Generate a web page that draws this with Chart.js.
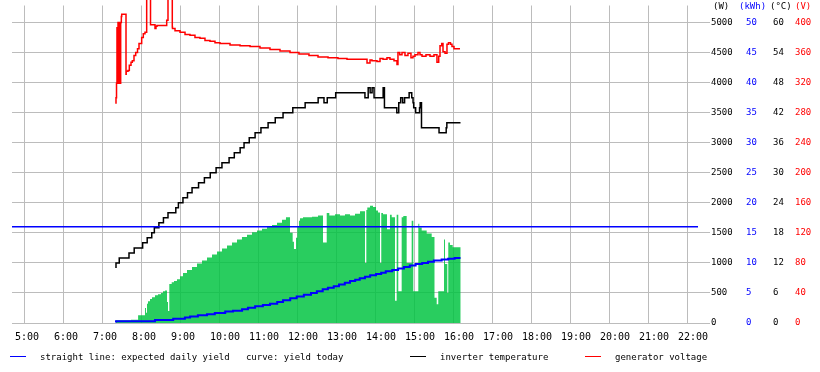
<!DOCTYPE html>
<html><head><meta charset="utf-8">
<script src="https://cdn.jsdelivr.net/npm/chart.js@4/dist/chart.umd.min.js"></script>
<style>
html,body{margin:0;padding:0;background:#fff;}
#wrap{position:relative;width:820px;height:372px;font-family:"DejaVu Sans Mono",monospace;}
canvas{position:absolute;left:0;top:0;}
.t{position:absolute;font-size:9px;line-height:12px;white-space:pre;color:#000;}
.ln{position:absolute;height:1px;width:16px;}
</style></head>
<body><div id="wrap"><canvas id="c" width="820" height="372"></canvas>
<span class="t" style="left:713px;top:0px;">(W)</span>
<span class="t" style="left:739px;top:0px;color:#0000ff;">(kWh)</span>
<span class="t" style="left:770px;top:0px;">(°C)</span>
<span class="t" style="left:795px;top:0px;color:#ff0000;">(V)</span>
<div class="ln" style="left:10px;top:356px;background:#0000ff;"></div>
<span class="t" style="left:40px;top:351px;">straight line: expected daily yield   curve: yield today</span>
<div class="ln" style="left:410px;top:356px;background:#000;"></div>
<span class="t" style="left:440px;top:351px;">inverter temperature</span>
<div class="ln" style="left:585px;top:356px;background:#ff0000;"></div>
<span class="t" style="left:615px;top:351px;">generator voltage</span>
</div>
<script>
// ---- axis ticks ----
const hourTicks = [5,6,7,8,9,10,11,12,13,14,15,16,17,18,19,20,21,22];
const wTicks = [0,500,1000,1500,2000,2500,3000,3500,4000,4500,5000];
const kwhTicks = [0,5,10,15,20,25,30,35,40,45,50];
const tempTicks = [0,6,12,18,24,30,36,42,48,54,60];
const voltTicks = [0,40,80,120,160,200,240,280,320,360,400];

// ---- expected daily yield (kWh) ----
const expectedYield = 16;

// ---- power (W) ----
const powerTimes = ['7:20','7:43','7:54','8:04.6','8:06.2','8:07.7','8:09.2','8:12.3','8:15.4','8:20','8:24.6','8:29.2','8:32.3','8:35.4','8:38.5','8:40','8:42','8:45.7','8:49.2','8:53.8','8:58.5','9:03.1','9:09.2','9:16.9','9:24.6','9:32.3','9:40','9:47.7','9:55.4','10:03.1','10:10.8','10:18.5','10:26.2','10:33.8','10:41.5','10:49.2','10:56.9','11:04.6','11:12.3','11:20','11:27.7','11:35.4','11:41.5','11:47.7','11:51.8','11:53.8','11:56.9','11:58.9','12:01.5','12:03.1','12:07.7','12:21.5','12:30.8','12:38.5','12:44.2','12:48.2','12:56.9','13:04.6','13:12.3','13:20','13:27.7','13:35.4','13:43.1','13:45.1','13:46.6','13:50.8','13:55.4','14:00','14:03.1','14:06.2','14:08.1','14:10.8','14:16.9','14:21.5','14:24.2','14:29.2','14:31.8','14:34.3','14:39.5','14:42','14:47.2','14:54.9','14:57.4','15:05.1','15:06.6','15:10.3','15:18','15:25.7','15:30','15:33.4','15:35.8','15:44.6','15:46.2','15:49.7','15:51.2','15:53.8','15:58','16:00.5','16:10.3'];
const powerW = [20,45,55,130,250,170,320,360,400,430,460,480,500,530,540,350,200,650,680,700,730,780,830,880,930,990,1040,1090,1140,1190,1240,1290,1340,1390,1430,1470,1510,1540,1570,1600,1630,1670,1720,1760,1500,1350,1230,1420,1600,1700,1745,1760,1770,1790,1340,1830,1790,1810,1790,1810,1790,1820,1860,1000,1880,1920,1950,1930,1870,1840,1000,1830,1810,1560,1800,1760,370,1800,530,1760,1780,1000,1700,530,1650,1590,1540,1490,1430,420,310,530,1390,980,500,1340,1300,1260,1260];

// ---- yield today (kWh) ----
const yieldTimes = ['7:20','8:20','8:48','9:06','9:14','9:26','9:40','9:52','10:08','10:20','10:34','10:43','10:54','11:06','11:17','11:28','11:37','11:48','11:58','12:09','12:20','12:29','12:38','12:46','12:55','13:03','13:12','13:20','13:28','13:35','13:43','13:51','14:00','14:08','14:15','14:25','14:34','14:43','14:52','15:01','15:11','15:20','15:29','15:41','15:51','16:01','16:10'];
const yieldKwh = [0.1,0.3,0.5,0.7,0.9,1.1,1.3,1.45,1.65,1.9,2.05,2.3,2.55,2.8,3.0,3.2,3.5,3.8,4.1,4.4,4.7,5.0,5.3,5.6,5.85,6.1,6.4,6.7,7.0,7.2,7.45,7.7,7.95,8.15,8.35,8.6,8.8,9.05,9.3,9.55,9.8,10.0,10.2,10.4,10.55,10.7,10.8];

// ---- inverter temperature (°C) ----
const tempTimes = ['7:20','7:25','7:40','7:48','8:01','8:08','8:15','8:19','8:26','8:33','8:40','8:52','8:56','9:03','9:10','9:17','9:27','9:36','9:45','9:54','10:03','10:14','10:22','10:31','10:37','10:45','10:54','11:03','11:14','11:25','11:37','11:52','12:11','12:31','12:40','12:45','12:58','13:43','13:48','13:51','13:54','13:57','14:11','14:13','14:32','14:35','14:38','14:41','14:44','14:51','14:55','14:57','14:58','15:01','15:07','15:08','15:10','15:37','15:48','15:49','15:58','16:10'];
const tempC = [11,12,13,14,15,16,17,18,19,20,21,22,23,24,25,26,27,28,29,30,31,32,33,34,35,36,37,38,39,40,41,42,43,44,45,44,45,46,45,47,46,47,45,47,43,42,44,45,44,45,46,45,44,43,42,43,44,39,38,39,40,40];

// ---- generator voltage (V) ----
const voltTimes = ['7:20','7:20.8','7:21.5','7:22.3','7:23.1','7:24.2','7:25.1','7:26.2','7:27.2','7:28.2','7:28.8','7:31.2','7:35.4','7:35.7','7:38.5','7:40.5','7:43.1','7:45.1','7:47.7','7:50.3','7:53.1','7:55.4','7:59.5','8:02','8:04.6','8:07.2','8:08.5','8:13.1','8:13.4','8:20','8:21.5','8:23.1','8:38','8:40','8:41.5','8:46.6','8:46.9','8:50.8','8:58.5','9:06.2','9:13.8','9:21.5','9:29.2','9:36.9','9:44.6','9:52.3','10:00','10:15.4','10:30.8','10:46.2','11:01.5','11:16.9','11:32.3','11:47.7','12:01.5','12:16.9','12:30.8','12:46.2','13:01.5','13:15.4','13:30.8','13:46.2','13:50.8','13:53.8','14:01.5','14:06.2','14:10.8','14:16.9','14:21.5','14:27.7','14:32.3','14:33.8','14:36.5','14:40','14:44.6','14:49.2','14:53.8','14:56.9','15:00','15:04.6','15:07.7','15:10.8','15:16.9','15:23.1','15:29.2','15:33.8','15:36.5','15:38.5','15:41.1','15:43.1','15:46.2','15:49.2','15:51.5','15:54.6','15:56.9','16:00','16:03.1','16:09.2'];
const voltV = [292,300,319,393,319,400,319,400,319,400,408,411,411,331,335,336,343,347,349,356,360,365,372,380,385,387,440,440,397,397,392,395,396,403,440,440,394,392,389,387,384,383,380,379,376,375,373,372,370,369,368,366,364,362,360,358,356,354,353,352,351,351,346,350,349,348,352,351,353,351,349,344,360,357,360,356,359,353,355,357,360,357,355,357,355,357,347,355,369,372,361,359,371,373,371,368,365,365];

// ---- view range ----
const xStart = '4:40', xEnd = '22:15.4';

function h(s){ const p = s.split(':'); return +p[0] + parseFloat(p[1])/60; }
function pts(times, vals){ return times.map((t,i)=>({x:h(t), y:vals[i]})); }

const FONT = 'DejaVu Sans Mono';
const GRID = '#bcbcbc';
const wMax = 5283.3;
const ratio = wMax / 5000;

const setTicks = arr => scale => { scale.ticks = arr.map(v => ({value: v})); };
const width = w => scale => { scale.width = w; };

new Chart(document.getElementById('c'), {
  type: 'line',
  data: {
    datasets: [
      { label: 'expected', data: [{x:h(xStart), y:expectedYield},{x:h(xEnd), y:expectedYield}], yAxisID: 'yK', borderColor: '#0000ff', borderWidth: 1.5, pointRadius: 0, order: 1 },
      { label: 'yield', data: pts(yieldTimes, yieldKwh), yAxisID: 'yK', borderColor: '#0000ff', borderWidth: 2, pointRadius: 0, stepped: 'after', order: 2 },
      { label: 'temp', data: pts(tempTimes, tempC), yAxisID: 'yC', borderColor: '#000000', borderWidth: 1.5, pointRadius: 0, stepped: 'after', order: 3 },
      { label: 'volt', data: pts(voltTimes, voltV), yAxisID: 'yV', borderColor: '#ff0000', borderWidth: 1.5, pointRadius: 0, stepped: 'after', order: 4, clip: {left:0, top:false, right:0, bottom:0} },
      { label: 'power', data: pts(powerTimes, powerW), yAxisID: 'yW', borderWidth: 0, borderColor: 'rgba(0,0,0,0)', backgroundColor: 'rgba(0,196,64,0.84)', fill: 'origin', pointRadius: 0, stepped: 'after', order: 9 }
    ]
  },
  options: {
    responsive: false, animation: false, devicePixelRatio: 1,
    layout: { padding: { left: 12, top: 5, right: 0, bottom: 21 } },
    plugins: { legend: { display: false }, tooltip: { enabled: false } },
    scales: {
      x: {
        type: 'linear', min: h(xStart), max: h(xEnd),
        grid: { color: GRID, lineWidth: 1, drawTicks: false },
        border: { display: false },
        afterBuildTicks: setTicks(hourTicks),
        ticks: { font: { family: FONT, size: 10 }, color: '#000', align: 'start', labelOffset: -10, padding: 8, maxRotation: 0, autoSkip: false, callback: v => v + ':00' }
      },
      yW: {
        position: 'right', weight: 0, min: 0, max: wMax,
        grid: { color: GRID, lineWidth: 1, drawTicks: true, tickLength: 12 },
        border: { display: false },
        afterBuildTicks: setTicks(wTicks), afterFit: width(48),
        ticks: { font: { family: FONT, size: 9, lineHeight: 1 }, color: '#000', padding: 1, callback: v => String(v) }
      },
      yK: {
        position: 'right', weight: 1, min: 0, max: 50 * ratio,
        grid: { display: false, drawTicks: false, tickLength: 0 },
        border: { display: false },
        afterBuildTicks: setTicks(kwhTicks), afterFit: width(27),
        ticks: { font: { family: FONT, size: 9, lineHeight: 1 }, color: '#0000ff', padding: 0, callback: v => String(v) }
      },
      yC: {
        position: 'right', weight: 2, min: 0, max: 60 * ratio,
        grid: { display: false, drawTicks: false, tickLength: 0 },
        border: { display: false },
        afterBuildTicks: setTicks(tempTicks), afterFit: width(22),
        ticks: { font: { family: FONT, size: 9, lineHeight: 1 }, color: '#000', padding: 0, callback: v => String(v) }
      },
      yV: {
        position: 'right', weight: 3, min: 0, max: 400 * ratio,
        grid: { display: false, drawTicks: false, tickLength: 0 },
        border: { display: false },
        afterBuildTicks: setTicks(voltTicks), afterFit: width(25),
        ticks: { font: { family: FONT, size: 9, lineHeight: 1 }, color: '#ff0000', padding: 0, callback: v => String(v) }
      }
    }
  }
});
</script>
</body></html>
